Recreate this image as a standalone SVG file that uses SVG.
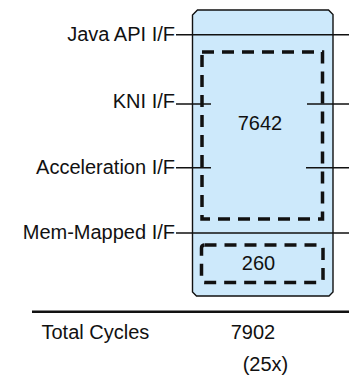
<svg xmlns="http://www.w3.org/2000/svg" width="349" height="379" viewBox="0 0 349 379">
  <style>
    text { font-family: "Liberation Sans", Arial, sans-serif; font-size: 20px; fill: #111; }
    .lbl { text-anchor: end; }
    .mid { text-anchor: middle; }
    .wire { stroke: #111; stroke-width: 1.4; fill: none; }
    .dash { stroke: #111; stroke-width: 3.5; fill: none; stroke-dasharray: 12 8; }
  </style>

  <!-- main block -->
  <g id="block">
    <path d="M197.5,10 L328.5,10 L333,14.5 L333,292 L329,296 L196.5,296 L192.5,292 L192.5,15 Z" fill="#cde9fb" stroke="#111" stroke-width="1.4"/>
  </g>

  <g id="region-7642">
    <rect x="202" y="52" width="120.5" height="167" class="dash"/>
    <text class="mid" x="260" y="130">7642</text>
  </g>

  <g id="region-260">
    <rect x="201.5" y="245" width="121.5" height="37.5" rx="3" class="dash"/>
    <text class="mid" x="258.5" y="270">260</text>
  </g>

  <!-- interface connectors -->
  <g id="connectors">
    <line class="wire" x1="176" y1="34.7" x2="349" y2="34.7"/>
    <line class="wire" x1="176" y1="104" x2="211" y2="104"/>
    <line class="wire" x1="307" y1="104" x2="349" y2="104"/>
    <line class="wire" x1="176" y1="167.7" x2="211" y2="167.7"/>
    <line class="wire" x1="306" y1="167.7" x2="349" y2="167.7"/>
    <line class="wire" x1="176" y1="233" x2="349" y2="233"/>
  </g>

  <g id="labels">
    <text class="lbl" x="175" y="40.5">Java API I/F</text>
    <text class="lbl" x="175" y="107.5">KNI I/F</text>
    <text class="lbl" x="175" y="173.5">Acceleration I/F</text>
    <text class="lbl" x="175" y="239">Mem-Mapped I/F</text>
  </g>

  <!-- totals -->
  <g id="totals">
    <line x1="32" y1="311.7" x2="349" y2="311.7" stroke="#111" stroke-width="2.6"/>
    <text x="41.5" y="338.5">Total Cycles</text>
    <text class="mid" x="253" y="338.5">7902</text>
    <text class="mid" x="265.5" y="371">(25x)</text>
  </g>
</svg>
